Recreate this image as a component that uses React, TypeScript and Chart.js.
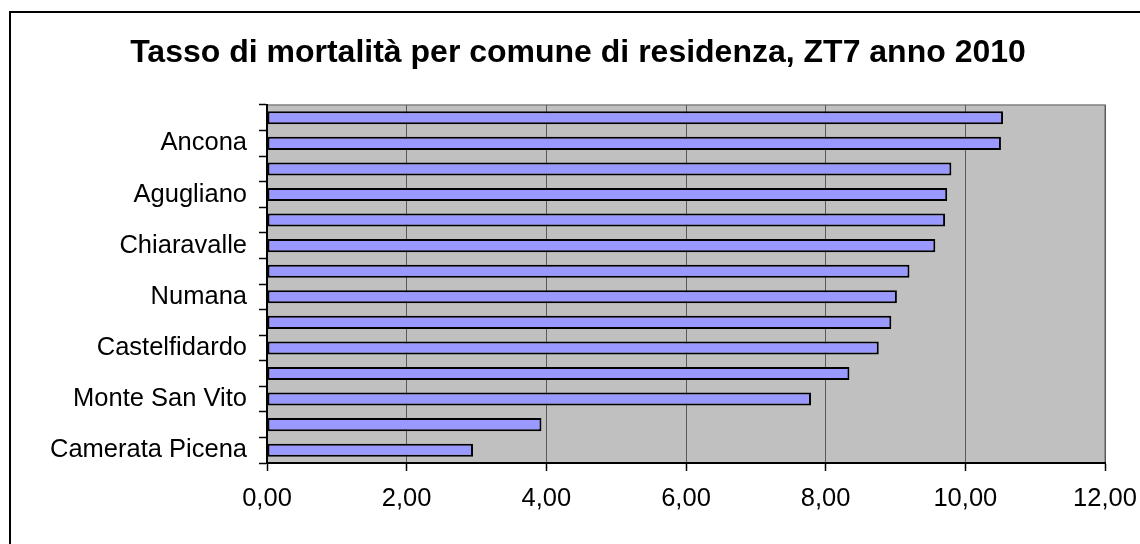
import React, { useEffect, useRef } from "react";
import { Chart, registerables } from "chart.js";

Chart.register(...registerables);

const titleText = "Tasso di mortalità per comune di residenza, ZT7 anno 2010";

// categories listed from top to bottom (only every other label is shown in the reference)
const categories = [
  "Falconara Marittima",
  "Ancona",
  "Camerano",
  "Agugliano",
  "Montemarciano",
  "Chiaravalle",
  "Offagna",
  "Numana",
  "Osimo",
  "Castelfidardo",
  "Polverigi",
  "Monte San Vito",
  "Sirolo",
  "Camerata Picena",
];

const values = [10.54, 10.51, 9.8, 9.74, 9.71, 9.57, 9.2, 9.02, 8.94, 8.76, 8.34, 7.79, 3.93, 2.95];

const xMin = 0;
const xMax = 12;
const xStep = 2;

const FONT = "'Liberation Sans', Arial, sans-serif";

const plotBg = {
  id: "plotBg",
  beforeDraw(chart: any) {
    const { ctx, chartArea } = chart;
    if (!chartArea) return;
    ctx.save();
    ctx.fillStyle = "#C0C0C0";
    ctx.fillRect(chartArea.left, chartArea.top, chartArea.right - chartArea.left, chartArea.bottom - chartArea.top);
    ctx.strokeStyle = "#808080";
    ctx.lineWidth = 1.5;
    ctx.beginPath();
    ctx.moveTo(chartArea.left, chartArea.top);
    ctx.lineTo(chartArea.right, chartArea.top);
    ctx.lineTo(chartArea.right, chartArea.bottom);
    ctx.stroke();
    ctx.restore();
  },
};

const titleDraw = {
  id: "titleDraw",
  afterDraw(chart: any) {
    const { ctx } = chart;
    ctx.save();
    ctx.fillStyle = "#000000";
    ctx.font = `bold 32px ${FONT}`;
    ctx.textAlign = "center";
    ctx.textBaseline = "alphabetic";
    ctx.fillText(titleText, 578, 62);
    ctx.restore();
  },
};

export default function App() {
  const ref = useRef<HTMLCanvasElement | null>(null);

  useEffect(() => {
    if (!ref.current) return;
    const chart = new Chart(ref.current, {
      type: "bar",
      data: {
        labels: categories,
        datasets: [
          {
            data: values,
            backgroundColor: "#9999FF",
            borderColor: "#000000",
            borderWidth: 2,
            borderSkipped: false,
            barPercentage: 0.51,
            categoryPercentage: 1,
          },
        ],
      },
      options: {
        indexAxis: "y",
        responsive: false,
        animation: false,
        devicePixelRatio: 1,
        layout: { padding: { left: 16, right: 35, top: 105, bottom: 0 } },
        plugins: {
          legend: { display: false },
          tooltip: { enabled: false },
          title: { display: false },
        },
        scales: {
          x: {
            min: xMin,
            max: xMax,
            afterFit: (s: any) => {
              s.height = 81;
              s.paddingLeft = 0;
              s.paddingRight = 0;
            },
            ticks: {
              stepSize: xStep,
              color: "#000000",
              font: { family: FONT, size: 25.5 },
              padding: 13,
              maxRotation: 0,
              callback: (v: any) => Number(v).toFixed(2).replace(".", ","),
            },
            grid: {
              color: "#5a5a5a",
              lineWidth: 1,
              tickColor: "#000000",
              tickLength: 8,
              tickWidth: 1.5,
            },
            border: { color: "#000000", width: 2 },
          },
          y: {
            afterFit: (s: any) => {
              s.width = 251;
              s.paddingTop = 0;
              s.paddingBottom = 0;
            },
            ticks: {
              color: "#000000",
              font: { family: FONT, size: 25.5 },
              padding: 12,
              autoSkip: false,
              callback: (_v: any, i: number) => (i % 2 === 1 ? categories[i] : ""),
            },
            grid: {
              offset: true,
              drawOnChartArea: false,
              tickColor: "#000000",
              tickLength: 8,
              tickWidth: 1.5,
            },
            border: { color: "#000000", width: 2 },
          },
        },
      },
      plugins: [plotBg, titleDraw],
    });
    return () => chart.destroy();
  }, []);

  return (
    <div style={{ position: "fixed", left: 0, top: 0, width: 1140, height: 544, overflow: "hidden", background: "#fff" }}>
      <div
        style={{
          position: "absolute",
          left: 9,
          top: 11,
          width: 1300,
          height: 700,
          border: "2px solid #000",
          boxSizing: "border-box",
        }}
      />
      <canvas ref={ref} width={1140} height={544} style={{ position: "absolute", left: 0, top: 0, width: 1140, height: 544 }} />
    </div>
  );
}
